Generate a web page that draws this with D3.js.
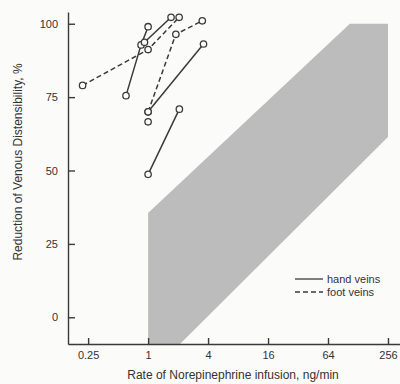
<!DOCTYPE html>
<html>
<head>
<meta charset="utf-8">
<script src="https://cdn.jsdelivr.net/npm/d3@7"></script>
<style>
  body { margin: 0; background: #fbfbfa; }
  svg { display: block; font-family: "Liberation Sans", Arial, sans-serif; }
  .axis path, .axis line { stroke: #3a3a3a; stroke-width: 1.4; }
  .axis text { fill: #333; font-size: 11px; }
</style>
</head>
<body>
<div id="chart"></div>
<script>
// rate of infusion (ng/min) and reduction of distensibility (%)
var xTicks = [0.25, 1, 4, 16, 64, 256];
var yTicks = [0, 25, 50, 75, 100];

var handVeins = [
  [[0.6, 75.5], [0.85, 92.8], [1, 99]],
  [[0.92, 93.7], [1.7, 102.2]],
  [[1, 70], [3.6, 93.1]],
  [[1, 48.7], [2.06, 70.9]],
  [[1, 66.6]]
];
var footVeins = [
  [[0.22, 79], [1, 91.2], [2.05, 102.2]],
  [[1, 70], [1.9, 96.4], [3.5, 101]]
];
// shaded range of reported responses
var band = [[1, 35.5], [106, 100], [256, 100], [256, 61.4], [2.09, -9.1], [1, -9.1]];

var width = 400, height = 384;

var svg = d3.select("#chart").append("svg")
  .attr("width", width)
  .attr("height", height);

var x = d3.scaleLog().base(4).domain([0.157, 338]).range([68, 400]);
var y = d3.scaleLinear().domain([-9.1, 104]).range([344, 12]);

// shaded band
svg.append("path")
  .attr("d", d3.line().x(function (d) { return x(d[0]); }).y(function (d) { return y(d[1]); })(band) + "Z")
  .attr("fill", "#bcbcbc");

// axes
svg.append("g")
  .attr("class", "axis")
  .attr("transform", "translate(0," + y(-9.1) + ")")
  .call(d3.axisBottom(x).tickValues(xTicks).tickFormat(function (d) { return String(d); })
    .tickSizeInner(-6).tickSizeOuter(0).tickPadding(7));

svg.append("g")
  .attr("class", "axis")
  .attr("transform", "translate(" + x(0.157) + ",0)")
  .call(d3.axisLeft(y).tickValues(yTicks).tickSizeInner(-7).tickSizeOuter(0).tickPadding(10));

var line = d3.line()
  .x(function (d) { return x(d[0]); })
  .y(function (d) { return y(d[1]); });

function drawSeries(series, dash) {
  series.forEach(function (s) {
    if (s.length > 1) {
      svg.append("path")
        .attr("d", line(s))
        .attr("fill", "none")
        .attr("stroke", "#3a3a3a")
        .attr("stroke-width", 1.5)
        .attr("stroke-dasharray", dash);
    }
  });
}
drawSeries(handVeins, null);
drawSeries(footVeins, "5,3");

// circles on top
var pts = [].concat.apply([], handVeins.concat(footVeins));
svg.selectAll("circle.pt")
  .data(pts)
  .enter()
  .append("circle")
  .attr("class", "pt")
  .attr("cx", function (d) { return x(d[0]); })
  .attr("cy", function (d) { return y(d[1]); })
  .attr("r", 3.2)
  .attr("fill", "#fbfbfa")
  .attr("stroke", "#3a3a3a")
  .attr("stroke-width", 1.3);

// legend
var legend = svg.append("g").attr("transform", "translate(295,279)");
var legendItems = [["hand veins", null], ["foot veins", "5,3"]];
legendItems.forEach(function (item, i) {
  legend.append("line")
    .attr("x1", 0).attr("x2", 28)
    .attr("y1", i * 13).attr("y2", i * 13)
    .attr("stroke", "#3a3a3a")
    .attr("stroke-width", 1.3)
    .attr("stroke-dasharray", item[1]);
  legend.append("text")
    .attr("x", 32).attr("y", i * 13 + 4)
    .attr("font-size", 11)
    .attr("fill", "#333")
    .text(item[0]);
});

// axis titles
svg.append("text")
  .attr("x", 233).attr("y", 379)
  .attr("text-anchor", "middle")
  .attr("font-size", 12)
  .attr("fill", "#333")
  .text("Rate of Norepinephrine infusion, ng/min");

svg.append("text")
  .attr("transform", "translate(22,162) rotate(-90)")
  .attr("text-anchor", "middle")
  .attr("font-size", 12)
  .attr("fill", "#333")
  .text("Reduction of Venous Distensibility, %");
</script>
</body>
</html>
